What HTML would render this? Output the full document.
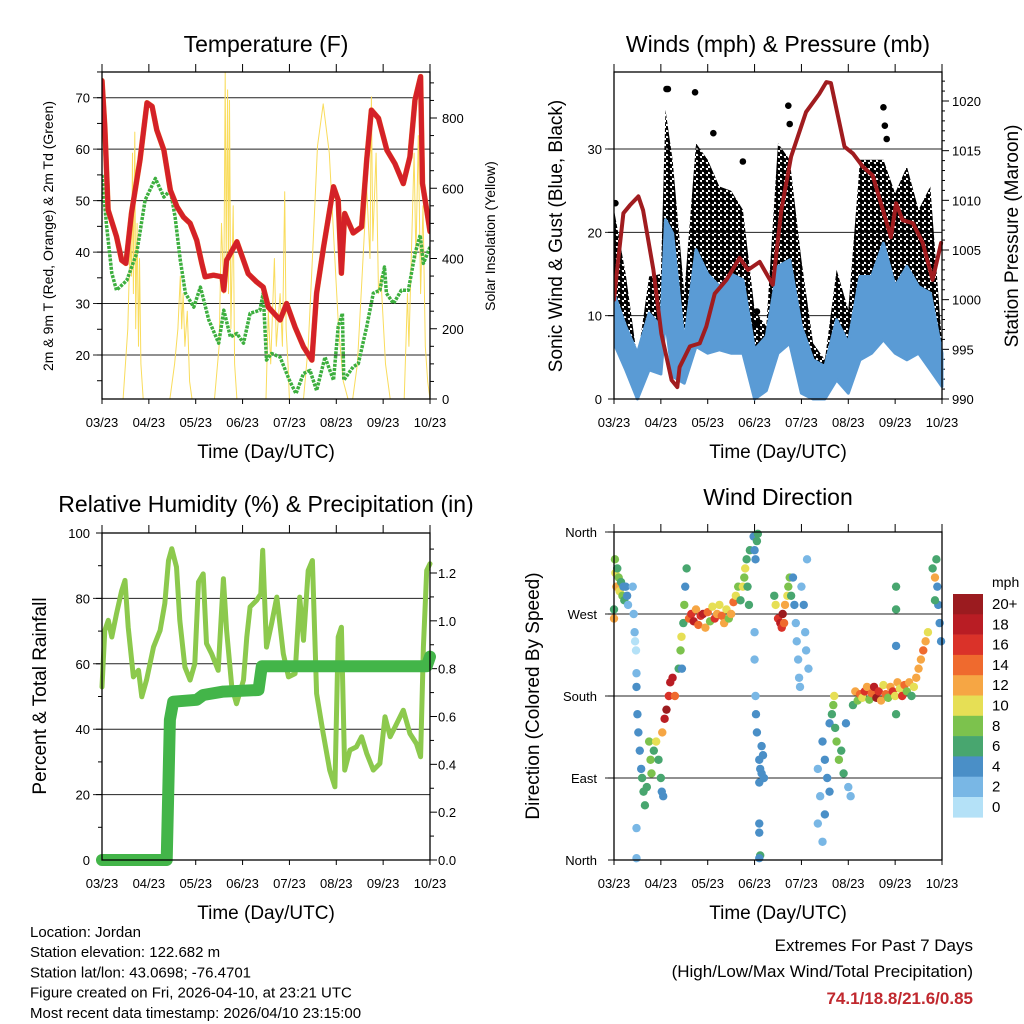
<!DOCTYPE html>
<html><head><meta charset="utf-8"><style>
html,body{margin:0;padding:0;background:#fff;}
svg{display:block;font-family:"Liberation Sans",sans-serif;}
</style></head><body>
<svg id="c" width="1024" height="1024" xmlns="http://www.w3.org/2000/svg">
<defs>
<pattern id="dots" width="6" height="6" patternUnits="userSpaceOnUse">
<circle cx="1.5" cy="1.5" r="2.6" fill="#000"/><circle cx="4.5" cy="4.5" r="2.6" fill="#000"/>
</pattern>
</defs>
</svg>
<script>
// ---------- DATA ----------
const dayLabels=["03/23","04/23","05/23","06/23","07/23","08/23","09/23","10/23"];
const tempT=[0,0.06,0.13,0.31,0.42,0.51,0.63,0.81,0.96,1.07,1.17,1.32,1.46,1.6,1.74,1.88,2.02,2.13,2.2,2.38,2.56,2.6,2.66,2.88,3.02,3.12,3.3,3.44,3.55,3.8,3.94,4.12,4.3,4.48,4.58,4.73,4.94,5.04,5.11,5.18,5.36,5.54,5.65,5.75,5.9,6.08,6.25,6.43,6.57,6.68,6.8,6.84,6.93,7];
const tempV=[73.3,64.4,48.2,43,38.4,37.8,47.6,57.9,69,68.3,63.7,59.8,52,48.8,46.8,45.6,42.3,37.8,35.2,35.5,35.2,32.6,38.4,42,38.4,35.8,34.2,33.2,29.3,26.8,30,25.4,21.6,19,32,41,52.7,50.1,35.9,47.5,43.7,44.9,57.9,67.6,66,59.8,57.2,53.3,58.5,69.6,74.1,53.3,48.2,44];
const dewT=[0,0.1,0.21,0.31,0.53,0.74,0.92,1.14,1.32,1.46,1.56,1.67,1.78,1.96,2.1,2.28,2.49,2.6,2.74,2.88,3.02,3.16,3.37,3.44,3.51,3.62,3.8,4.0,4.14,4.3,4.44,4.58,4.76,4.94,5.04,5.13,5.16,5.36,5.47,5.65,5.79,5.93,6.03,6.07,6.22,6.39,6.54,6.68,6.79,6.86,7];
const dewV=[55,44.9,35.9,32.6,34.5,39.8,50.1,54.3,50.7,52,46.8,38.4,32,29.3,33.2,26.8,22.3,28.7,23.5,24.2,22.3,28.1,28.7,32,19,20.3,19.6,15.1,12.5,16.4,17,13.1,19.6,15.1,25.5,28.1,15.1,17.7,18.3,25.5,32,32.6,37.1,32,30,32.6,32.6,39.7,43.3,37.8,41];
const solarT=[0,0.45,0.55,0.6,0.63,0.65,0.67,0.7,0.72,0.75,0.78,0.8,0.83,0.88,1.45,1.55,1.62,1.67,1.7,1.73,1.77,1.82,1.87,1.92,2.4,2.5,2.55,2.6,2.63,2.65,2.68,2.7,2.72,2.75,2.8,2.83,2.88,3.5,3.55,3.6,3.68,3.72,3.8,3.85,3.9,3.93,3.97,4.0,4.3,4.4,4.5,4.6,4.72,4.85,4.95,5.05,5.15,5.25,5.35,5.45,5.55,5.65,5.72,5.75,5.78,5.85,5.9,5.95,6.05,6.15,6.45,6.52,6.55,6.62,6.66,6.7,6.75,6.8,6.85,6.9,6.95,7];
const solarV=[0,0,200,450,350,700,300,760,200,500,150,400,100,0,0,100,200,350,200,300,150,250,50,0,0,150,500,300,930,400,880,300,850,200,550,100,0,0,250,100,400,150,300,150,590,200,100,0,0,150,430,720,840,700,450,200,50,0,0,100,350,600,400,860,450,700,300,350,100,0,0,300,150,500,700,400,750,300,550,150,50,0];
const windT=[0,0.25,0.5,0.75,1.0,1.1,1.25,1.5,1.75,2.0,2.25,2.5,2.75,3.0,3.25,3.5,3.75,4.0,4.25,4.5,4.75,5.0,5.25,5.5,5.75,6.0,6.25,6.5,6.75,7.0];
const windMax=[12.7,8.7,5.5,10.3,8.7,21.5,19.9,6.7,17.9,15,13.5,15,14.3,5.9,7.5,15.9,16.7,8.7,4.7,3.9,9.5,6.7,14.7,14.7,18.7,13.5,15.9,13.5,12.7,5.5];
const windMin=[6.7,3.5,0,3.5,3,9.5,2.7,1.9,6.3,5.5,5.9,5.5,5.5,0,1,5.5,6.7,0.7,0,0,2.3,0.7,4.7,5.5,7.1,5.5,4.7,5.5,3.5,1.5];
const gustMax=[22.7,15,4.7,14.7,15,34.7,28.7,12.7,30.7,28.7,25.5,25,22.7,10.7,8.7,30.7,28.7,16.7,6.7,4.7,15.5,10.7,28.7,28.7,28.7,24.7,27.9,22.7,25.5,6.7];
const gustOutT=[1.12,1.15,1.73,2.12,2.75,3.72,3.75,5.75,5.78,5.82,3.05,3.05,0.03];
const gustOutV=[37.2,37.2,36.8,31.9,28.5,35.2,33,35,32.8,31.2,10.5,9,23.5];
const presT=[0,0.09,0.2,0.34,0.52,0.62,0.84,1.01,1.23,1.35,1.4,1.62,1.83,1.97,2.15,2.4,2.68,2.86,3.11,3.39,3.57,3.78,4.1,4.38,4.53,4.63,4.92,5.1,5.31,5.52,5.91,6.02,6.16,6.38,6.59,6.8,6.98];
const presV=[1000,1004,1008.7,1009.5,1010.4,1009,1003,996.6,991.9,991.2,993.2,995.3,995.6,997.3,1000.6,1002,1004.2,1003,1003.8,1001.5,1009,1014.4,1018.9,1020.7,1021.9,1021.8,1015.4,1014.7,1013.4,1012.5,1006.3,1009.7,1008,1007.7,1005.7,1002,1005.7];
const rhT=[0,0.06,0.135,0.21,0.31,0.42,0.49,0.56,0.67,0.78,0.85,0.95,1.1,1.24,1.34,1.42,1.49,1.59,1.66,1.77,1.88,1.98,2.06,2.16,2.23,2.34,2.48,2.59,2.66,2.77,2.87,3.02,3.09,3.16,3.3,3.39,3.43,3.51,3.62,3.73,3.87,3.98,4.12,4.22,4.3,4.4,4.49,4.58,4.72,4.86,4.97,5.04,5.11,5.18,5.29,5.43,5.54,5.65,5.79,5.93,6.04,6.15,6.29,6.43,6.57,6.71,6.8,6.86,6.93,7];
const rhV=[52.9,70.2,73.3,68.2,75.3,82.4,85.5,71.2,56,58,49.9,55,65.1,70.2,78.4,91.6,95.2,89.6,73.3,59,55,60,85,87.5,66.2,63.1,58,86,70.2,52.9,47.8,55,68.2,77.4,79.4,81.4,94.7,65.1,72.3,80.4,63.1,56,57,80.4,67.2,88.5,91.6,50.9,38.7,27.5,22.4,68.2,71.2,27.5,33.6,34.6,37.7,32.6,27.5,29.5,43.8,37.7,41.7,45.8,38.7,35.6,31.6,65.1,88.5,90.6];
const prT=[0,1.38,1.45,1.52,2.02,2.16,2.59,3.34,3.41,6.93,7];
const prV=[0,0,0.586,0.662,0.67,0.69,0.704,0.711,0.81,0.81,0.85];
const wdT=[0.02,0.03,0.05,0.07,0.1,0.12,0.15,0.18,0.2,0.22,0.25,0.28,0.3,0.0,0.0,0.4,0.42,0.44,0.45,0.47,0.48,0.48,0.5,0.52,0.55,0.58,0.6,0.63,0.66,0.7,0.75,0.78,0.8,0.85,0.9,0.95,1.0,1.02,1.05,0.48,0.48,1.03,1.08,1.12,1.17,1.2,1.25,1.3,1.38,1.42,1.44,1.48,1.5,1.52,1.55,1.45,1.6,1.65,1.7,1.75,1.8,1.85,1.9,1.95,2.0,2.05,2.1,2.15,2.2,2.25,2.3,2.35,2.4,2.45,2.5,2.55,2.6,2.65,2.7,2.75,2.78,2.8,2.83,2.85,2.88,2.9,2.98,3.0,3.02,3.05,3.07,3.0,3.0,3.02,3.03,3.05,3.1,3.12,3.15,3.18,3.2,3.1,3.15,3.1,3.1,3.12,3.1,3.42,3.45,3.5,3.55,3.58,3.6,3.63,3.65,3.7,3.72,3.75,3.78,3.82,3.85,3.88,3.9,3.93,3.95,3.97,4.0,4.05,4.08,4.1,4.12,4.15,4.35,4.4,4.35,4.45,4.5,4.55,4.6,4.65,4.68,4.72,4.75,4.8,4.85,4.9,4.95,5.0,5.05,4.45,4.5,4.6,4.7,5.1,5.15,5.2,5.25,5.3,5.35,5.4,5.45,5.5,5.55,5.6,5.65,5.7,5.75,5.8,5.85,5.9,5.95,6.0,6.05,6.1,6.15,6.2,6.25,6.3,6.35,6.4,6.45,6.5,6.55,6.6,6.65,6.7,6.02,6.02,6.02,6.02,6.8,6.85,6.88,6.9,6.92,6.95,6.98,6.85];
const wdDir=[330,315,300,320,310,295,305,290,300,285,300,290,280,265,275,300,270,250,240,230,205,190,160,140,120,100,90,75,60,80,130,110,95,120,130,110,90,75,70,35,2,140,155,165,180,195,200,180,210,230,245,260,280,300,320,210,265,270,262,275,258,268,270,255,272,262,278,265,270,280,268,260,275,265,270,283,290,300,285,300,310,320,330,300,280,340,355,340,330,350,358,250,220,180,160,140,110,100,95,115,90,85,125,40,30,5,2,290,280,265,260,255,270,260,280,290,300,310,290,310,280,260,240,220,200,190,300,280,250,230,330,210,100,70,40,130,110,90,150,160,170,145,130,110,120,95,150,80,70,20,50,75,180,170,185,175,182,178,185,190,176,183,190,178,185,175,192,182,178,190,185,180,195,188,180,192,185,195,180,190,200,210,220,230,240,250,160,300,235,275,320,310,330,300,280,260,240,285];
const wdSpd=[8,10,12,6,8,10,6,8,4,6,4,4,2,12,6,2,2,2,0,0,2,4,4,4,4,4,6,6,6,6,8,8,8,6,10,6,6,4,4,2,2,12,18,20,16,18,18,14,6,8,10,6,8,4,6,4,14,16,18,12,14,16,18,12,14,8,10,16,12,10,14,12,10,8,12,14,10,8,6,10,8,10,6,6,6,6,4,4,4,6,6,2,2,2,4,4,4,4,4,4,4,4,4,4,4,6,4,6,10,16,18,16,20,14,12,10,8,8,6,4,4,2,2,2,2,2,2,4,2,2,2,2,2,2,2,4,4,4,4,6,8,6,8,8,6,6,4,2,2,2,4,4,10,6,12,8,14,10,16,12,8,14,18,20,16,12,10,14,8,12,16,10,12,10,16,14,8,12,6,10,12,12,12,14,12,10,6,6,4,6,6,12,6,4,4,4,4,6];
const cbLabels=["20+","18","16","14","12","10","8","6","4","2","0"];
const cbColors=["#9b1b1f","#b91d24","#da3229","#ef6a2e","#f6a644","#e6df55","#7cc24d","#48a66f","#4a8fc7","#79b7e5","#b4e1f7"];

// ---------- HELPERS ----------
const NS="http://www.w3.org/2000/svg";
const svg=document.getElementById('c');
function mk(tag,attrs,parent,text){const e=document.createElementNS(NS,tag);for(const k in attrs)e.setAttribute(k,attrs[k]);if(text!==undefined)e.textContent=text;(parent||svg).appendChild(e);return e;}
function scale(d0,d1,r0,r1){return v=>r0+(v-d0)/(d1-d0)*(r1-r0);}
function colorFor(s){let i=Math.min(10,Math.floor(s/2));return cbColors[10-i];}
function panel(name){
  const g=mk('g',{});
  
  
  return g;
}
function xAxis(g,L,R,T,B){
  const sx=scale(0,7,L,R);
  for(let i=0;i<8;i++){
    const x=sx(i);
    const tk=mk('line',{x1:x,x2:x,y1:B,y2:B+5,stroke:'#000','stroke-width':1},g);
    
    
    const tt=mk('line',{x1:x,x2:x,y1:T-8,y2:T,stroke:'#000','stroke-width':1},g);
    
    
    const lb=mk('text',{x:x,y:B+28,'font-size':13,'text-anchor':'middle'},g,dayLabels[i]);
    
    
  }
  const xt=mk('text',{x:(L+R)/2,y:B+59,'font-size':19,'text-anchor':'middle'},g,'Time (Day/UTC)');
  
  
  return sx;
}
function frame(g,L,R,T,B){
  const f=mk('rect',{x:L,y:T,width:R-L,height:B-T,fill:'none',stroke:'#000','stroke-width':1.3},g);
  
  
}
function grid(g,L,R,y){
  const l=mk('line',{x1:L-9,x2:R,y1:y,y2:y,stroke:'#222','stroke-width':1},g);
  
  
}
function ytick(g,x,y,len,name){
  const l=mk('line',{x1:x,x2:x+len,y1:y,y2:y,stroke:'#000','stroke-width':1},g);
  
  
}
function label(g,x,y,txt,anchor,size,name){
  const t=mk('text',{x:x,y:y,'font-size':size,'text-anchor':anchor},g,txt);
  
  
  return t;
}
function vtitle(g,x,y,txt,size,name){
  const t=mk('text',{x:0,y:0,'font-size':size,'text-anchor':'middle',transform:`translate(${x},${y}) rotate(-90)`},g,txt);
  
  
}
function line(g,xs,ys,sx,sy,attrs,name){
  const pts=xs.map((t,i)=>sx(t).toFixed(1)+','+sy(ys[i]).toFixed(1)).join(' ');
  const p=mk('polyline',Object.assign({points:pts,fill:'none','stroke-linejoin':'round','stroke-linecap':'round'},attrs),g);
  
  
  return p;
}
function band(g,xs,lo,hi,sx,sy,attrs,name){
  let pts=xs.map((t,i)=>sx(t).toFixed(1)+','+sy(hi[i]).toFixed(1));
  for(let i=xs.length-1;i>=0;i--)pts.push(sx(xs[i]).toFixed(1)+','+sy(lo[i]).toFixed(1));
  const p=mk('polygon',Object.assign({points:pts.join(' ')},attrs),g);
  
  
}

// ---------- PANEL 1: TEMPERATURE ----------
(function(){
  const L=102,R=430,T=72,B=399;
  const g=panel('temperature-panel');
  const sy=scale(20,70,355,97.7), sw=scale(0,800,399,118);
  label(g,266,52,'Temperature (F)','middle',23,'temperature-title');
  [20,30,40,50,60,70].forEach(v=>{grid(g,L,R,sy(v));label(g,L-12,sy(v)+5,String(v),'end',13,'y-tick-label');});
  for(let v=15;v<=75;v+=5)ytick(g,L-5,sy(v),5,'y-minor-tick');
  for(let v=0;v<=900;v+=50)ytick(g,R,sw(v),v%200==0?7:4,'right-tick');
  [0,200,400,600,800].forEach(v=>label(g,R+12,sw(v)+5,String(v),'start',13,'right-tick-label'));
  const sx=xAxis(g,L,R,T,B);
  const clip=mk('clipPath',{id:'cp1'},g);mk('rect',{x:L,y:T,width:R-L,height:B-T},clip);
  const inner=mk('g',{'clip-path':'url(#cp1)'},g);
  line(inner,solarT,solarV,sx,sw,{stroke:'#f9dc5c','stroke-width':1},'solar-line');
  line(inner,dewT,dewV,sx,sy,{stroke:'#3daf3f','stroke-width':3.5,'stroke-dasharray':'3 1.2','stroke-linecap':'butt'},'dewpoint-line');
  line(inner,tempT,tempV,sx,sy,{stroke:'#ef7a28','stroke-width':5.5},'temp-9m-line');
  line(inner,tempT,tempV,sx,sy,{stroke:'#d42128','stroke-width':5},'temp-2m-line');
  frame(g,L,R,T,B);
  vtitle(g,53,236,'2m & 9m T (Red, Orange) & 2m Td (Green)',14,'y-axis-title');
  vtitle(g,495,236,'Solar Insolation (Yellow)',14,'right-axis-title');
})();

// ---------- PANEL 2: WINDS & PRESSURE ----------
(function(){
  const L=614,R=942,T=72,B=399;
  const g=panel('winds-panel');
  const sy=scale(0,30,399,149), sp=scale(990,1020,399,101);
  label(g,778,52,'Winds (mph) & Pressure (mb)','middle',23,'winds-title');
  [10,20,30].forEach(v=>grid(g,L,R,sy(v)));
  [0,10,20,30].forEach(v=>{ytick(g,L-6,sy(v),6,'y-tick');label(g,L-12,sy(v)+5,String(v),'end',13,'y-tick-label');});
  for(let v=990;v<=1022;v++)ytick(g,R,sp(v),v%5==0?7:3,'right-tick');
  [990,995,1000,1005,1010,1015,1020].forEach(v=>label(g,R+10,sp(v)+5,String(v),'start',13,'right-tick-label'));
  const sx=xAxis(g,L,R,T,B);
  const clip=mk('clipPath',{id:'cp2'},g);mk('rect',{x:L,y:T-6,width:R-L+4,height:B-T+8},clip);
  const inner=mk('g',{'clip-path':'url(#cp2)'},g);
  band(inner,windT,windMin,gustMax,sx,sy,{fill:'url(#dots)'},'gust-band');
  gustOutT.forEach((t,i)=>{const c=mk('circle',{cx:sx(t),cy:sy(gustOutV[i]),r:3.3,fill:'#000'},inner);
    
    });
  band(inner,windT,windMin,windMax,sx,sy,{fill:'#5a9bd5',stroke:'#5a9bd5','stroke-width':3,'stroke-linejoin':'round'},'wind-band');
  line(inner,presT,presV,sx,sp,{stroke:'#a01c1f','stroke-width':4},'pressure-line');
  frame(g,L,R,T,B);
  vtitle(g,562,236,'Sonic Wind & Gust (Blue, Black)',19,'y-axis-title');
  vtitle(g,1018,236,'Station Pressure (Maroon)',19,'right-axis-title');
})();

// ---------- PANEL 3: RH & PRECIP ----------
(function(){
  const L=102,R=430,T=533,B=860;
  const g=panel('humidity-panel');
  const sy=scale(0,100,860,533), sr=scale(0,1.2,860,573);
  label(g,266,512,'Relative Humidity (%) & Precipitation (in)','middle',23,'humidity-title');
  [20,40,60,80].forEach(v=>grid(g,L,R,sy(v)));
  [0,20,40,60,80,100].forEach(v=>{ytick(g,L-6,sy(v),6,'y-tick');label(g,L-12,sy(v)+5,String(v),'end',13,'y-tick-label');});
  for(let v=10;v<100;v+=20)ytick(g,L-4,sy(v),4,'y-minor-tick');
  for(let v=0;v<=1.36;v+=0.1)ytick(g,R,sr(v),Math.round(v*10)%2==0?7:4,'right-tick');
  [0,0.2,0.4,0.6,0.8,1.0,1.2].forEach(v=>label(g,R+8,sr(v)+5,v.toFixed(1),'start',13,'right-tick-label'));
  const sx=xAxis(g,L,R,T,B);
  line(g,rhT,rhV,sx,sy,{stroke:'#8cc94d','stroke-width':5},'rh-line');
  line(g,prT,prV,sx,sr,{stroke:'#43b549','stroke-width':12},'precip-line');
  frame(g,L,R,T,B);
  vtitle(g,46,696,'Percent & Total Rainfall',19,'y-axis-title');
})();

// ---------- PANEL 4: WIND DIRECTION ----------
(function(){
  const L=614,R=942,T=532,B=860;
  const g=panel('wind-direction-panel');
  const sy=scale(0,360,860,532);
  label(g,778,505,'Wind Direction','middle',23,'wind-direction-title');
  [90,180,270].forEach(v=>grid(g,L,R,sy(v)));
  grid(g,L,R,sy(360));
  const names=['North','East','South','West','North'];
  [0,90,180,270,360].forEach((v,i)=>{ytick(g,L-6,sy(v),6,'y-tick');label(g,L-17,sy(v)+5,names[i],'end',13,'y-tick-label');});
  const sx=xAxis(g,L,R,T,B);
  wdT.forEach((t,i)=>{
    const c=mk('circle',{cx:sx(t),cy:sy(wdDir[i]),r:4.2,fill:colorFor(wdSpd[i])},g);
    
    
  });
  frame(g,L,R,T,B);
  vtitle(g,539,696,'Direction (Colored By Speed)',19,'y-axis-title');
  const cb=mk('g',{},g);
  
  
  label(cb,992,587,'mph','start',14,'colorbar-unit');
  cbColors.forEach((col,i)=>{
    const r=mk('rect',{x:953,y:594+i*20.3,width:30,height:20.6,fill:col},cb);
    
    
    label(cb,992,609+i*20.3,cbLabels[i],'start',15,'colorbar-label');
  });
})();

// ---------- FOOTER TEXT ----------
const info=["Location: Jordan","Station elevation: 122.682 m","Station lat/lon: 43.0698; -76.4701","Figure created on Fri, 2026-04-10, at 23:21 UTC","Most recent data timestamp: 2026/04/10 23:15:00"];
info.forEach((s,i)=>label(svg,30,937+i*20.2,s,'start',15,'station-info-line'));
label(svg,973,951,'Extremes For Past 7 Days','end',17,'extremes-title');
label(svg,973,977,'(High/Low/Max Wind/Total Precipitation)','end',17,'extremes-subtitle');
const ev=label(svg,973,1004,'74.1/18.8/21.6/0.85','end',17,'extremes-values');
ev.setAttribute('fill','#c0282e');ev.setAttribute('font-weight','bold');
</script>
</body></html>
